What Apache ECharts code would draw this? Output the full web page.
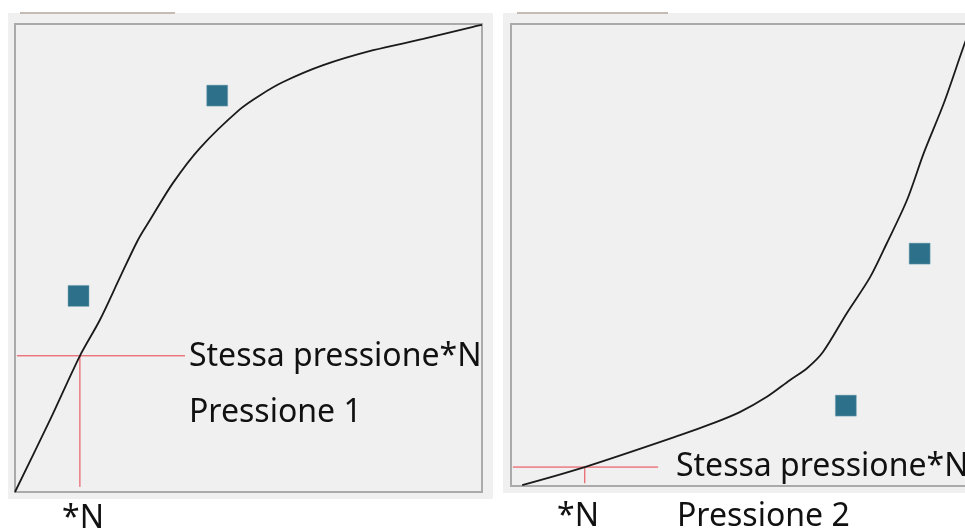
<!DOCTYPE html>
<html>
<head>
<meta charset="utf-8">
<script src="https://cdn.jsdelivr.net/npm/echarts@6/dist/echarts.min.js"></script>
<style>
  html, body { margin: 0; padding: 0; background: #ffffff; }
  #chart { width: 965px; height: 532px; }
</style>
</head>
<body>
<div id="chart"></div>
<script>
// left panel (Pressione 1), values on a 0-100 scale inside the frame
const curve1X = [0, 7.5, 13.9, 18.2, 22.5, 26.3, 28.9, 33.8, 39.6, 48.2, 52.5, 57.4, 66.0, 76.7, 87.4, 98.1, 100];
const curve1Y = [0, 15.4, 29.1, 36.8, 45.9, 53.8, 58.1, 66.0, 73.5, 81.8, 84.8, 87.6, 91.2, 94.4, 96.8, 99.4, 99.8];
const points1X = [13.6, 43.3];
const points1Y = [41.9, 84.7];
const level1 = 29.1;   // "Stessa pressione*N"
const n1 = 13.9;       // "*N"

// right panel (Pressione 2)
const curve2X = [2.4, 15.8, 36.2, 43.3, 49.0, 54.8, 59.7, 63.4, 66.8, 71.9, 76.9, 80.5, 84.8, 88.4, 92.7, 96.8, 98.7];
const curve2Y = [0.2, 4.1, 11.0, 13.6, 16.0, 19.3, 22.9, 25.5, 29.0, 37.4, 45.2, 52.6, 61.9, 72.1, 82.9, 94.8, 100];
const points2X = [87.5, 71.7];
const points2Y = [50.3, 17.4];
const level2 = 4.1;
const n2 = 15.8;

const labelLevel = "Stessa pressione*N";
const labelN = "*N";
const panelNames = ["Pressione 1", "Pressione 2"];

const pairs = (xs, ys) => xs.map((x, i) => [x, ys[i]]);

const font = "'Noto Sans', sans-serif";
const textColor = "#111111";
const red = "#e8404a";
const marker = "#2d7089";

function axisPair(idx) {
  return {
    x: { gridIndex: idx, type: "value", min: 0, max: 100, show: false },
    y: { gridIndex: idx, type: "value", min: 0, max: 100, show: false },
  };
}

const a0 = axisPair(0);
const a1 = axisPair(1);

const crossSeries = (idx, level, n) => [
  {
    type: "line", xAxisIndex: idx, yAxisIndex: idx, symbol: "none", silent: true,
    lineStyle: { color: red, width: 1 },
    data: [[0.4, level], [idx === 0 ? 36.4 : 31.5, level]],
  },
  {
    type: "line", xAxisIndex: idx, yAxisIndex: idx, symbol: "none", silent: true,
    lineStyle: { color: red, width: 1 },
    data: [[n, level], [n, idx === 0 ? 1.1 : 0.6]],
  },
];

const curveSeries = (idx, xs, ys) => ({
  type: "line", xAxisIndex: idx, yAxisIndex: idx, symbol: "none",
  smooth: 0.3,
  lineStyle: { color: "#1a1a1a", width: 1.8 },
  data: pairs(xs, ys),
});

const pointSeries = (idx, xs, ys) => ({
  type: "scatter", xAxisIndex: idx, yAxisIndex: idx, symbol: "rect", symbolSize: 21,
  itemStyle: { color: marker, borderColor: "#7fa9b8", borderWidth: 0.5, opacity: 1 },
  data: pairs(xs, ys),
});

const txt = (x, y, s) => ({
  type: "text", x: x, y: y, z: 100,
  style: { text: s, fill: textColor, font: "32px " + font, verticalAlign: "middle" },
});

const chart = echarts.init(document.getElementById("chart"));

chart.setOption({
  animation: false,
  backgroundColor: "#ffffff",
  grid: [
    { left: 15, top: 24, width: 467, height: 468, show: true, backgroundColor: "#f0f0f0", borderColor: "#aaaaaa", borderWidth: 2, outerBoundsMode: "none" },
    { left: 511, top: 24, width: 467, height: 462, show: true, backgroundColor: "#f0f0f0", borderColor: "#aaaaaa", borderWidth: 2, outerBoundsMode: "none" },
  ],
  xAxis: [a0.x, a1.x],
  yAxis: [a0.y, a1.y],
  graphic: [
    { type: "rect", z: -10, shape: { x: 8, y: 13, width: 485, height: 486 }, style: { fill: "#f0f0f0" } },
    { type: "rect", z: -10, shape: { x: 503, y: 13, width: 470, height: 480 }, style: { fill: "#f0f0f0" } },
    { type: "rect", z: -5, shape: { x: 20, y: 12, width: 155, height: 2 }, style: { fill: "#c4bcb4" } },
    { type: "rect", z: -5, shape: { x: 517, y: 12, width: 151, height: 2 }, style: { fill: "#c4bcb4" } },
    txt(189, 357, labelLevel),
    txt(189, 413, panelNames[0]),
    txt(62, 519, labelN),
    txt(676, 467, labelLevel),
    txt(677, 517, panelNames[1]),
    txt(557, 517, labelN),
  ],
  series: [
    ...crossSeries(0, level1, n1),
    curveSeries(0, curve1X, curve1Y),
    pointSeries(0, points1X, points1Y),
    ...crossSeries(1, level2, n2),
    curveSeries(1, curve2X, curve2Y),
    pointSeries(1, points2X, points2Y),
  ],
});
</script>
</body>
</html>
